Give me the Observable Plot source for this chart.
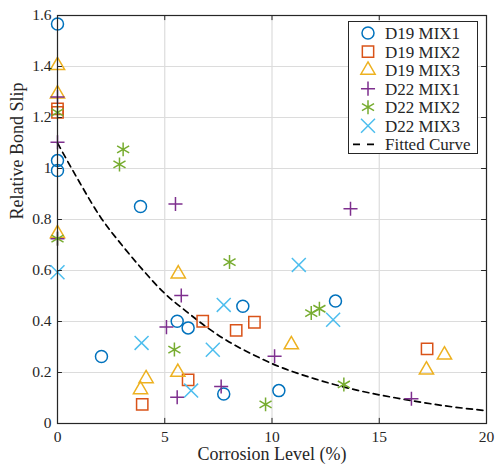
<!DOCTYPE html>
<html><head><meta charset="utf-8">
<script src="https://cdn.jsdelivr.net/npm/d3@7"></script>
<script src="https://cdn.jsdelivr.net/npm/@observablehq/plot@0.6"></script>
<style>
body{margin:0;background:#fff;}
#wrap{position:relative;width:495px;height:467px;font-family:"Liberation Serif","Times New Roman",serif;}
#wrap svg text{font-family:"Liberation Serif","Times New Roman",serif;}
#legend{position:absolute;left:348px;top:21px;width:128px;height:131px;border:1px solid #262626;background:#fff;}
#legend svg{display:block;}
</style></head><body><div id="wrap"></div>
<script>
// ---- data ----
const xTicks = [0, 5, 10, 15, 20];
const yTicks = [0, 0.2, 0.4, 0.6, 0.8, 1, 1.2, 1.4, 1.6];
const xLabel = "Corrosion Level (%)";
const yLabel = "Relative Bond Slip";
const seriesNames = ["D19 MIX1", "D19 MIX2", "D19 MIX3", "D22 MIX1", "D22 MIX2", "D22 MIX3"];
const seriesColors = ["#0072BD", "#D95319", "#EDB120", "#7E2F8E", "#77AC30", "#4DBEEE"];
const seriesSymbols = ["circle", "square2", "triangle2", "plus", "asterisk", "times"];
const fitLabel = "Fitted Curve";

const d19mix1X = [0, 0, 0, 2.05, 3.87, 5.58, 6.09, 7.75, 8.64, 10.32, 12.96];
const d19mix1Y = [1.567, 1.031, 0.992, 0.263, 0.851, 0.401, 0.375, 0.116, 0.46, 0.129, 0.48];
const d19mix2X = [0, 0, 3.95, 6.09, 6.77, 8.33, 9.18, 17.23];
const d19mix2Y = [1.234, 1.22, 0.075, 0.171, 0.401, 0.365, 0.397, 0.293];
const d19mix3X = [0, 0, 0, 3.87, 4.13, 5.63, 5.61, 10.9, 17.2, 18.04];
const d19mix3Y = [1.404, 1.293, 0.745, 0.133, 0.176, 0.587, 0.201, 0.309, 0.21, 0.269];
const d22mix1X = [0, 0, 0, 5.5, 5.77, 5.08, 5.58, 7.63, 10.12, 13.66, 16.5];
const d22mix1Y = [1.28, 1.103, 0.725, 0.861, 0.502, 0.378, 0.103, 0.145, 0.264, 0.842, 0.097];
const d22mix2X = [0, 0, 2.89, 3.06, 5.45, 8.02, 9.7, 11.83, 12.21, 13.35];
const d22mix2Y = [1.22, 0.725, 1.016, 1.075, 0.29, 0.633, 0.075, 0.433, 0.45, 0.153];
const d22mix3X = [0, 3.92, 6.23, 7.24, 7.75, 11.25, 12.85];
const d22mix3Y = [0.593, 0.316, 0.129, 0.289, 0.465, 0.622, 0.407];

const fitX = [0, 1, 2, 3, 4, 5, 6, 7, 8, 9, 10, 12, 14, 16, 18, 20];
const fitY = [1.10, 0.95, 0.81, 0.70, 0.60, 0.51, 0.44, 0.375, 0.32, 0.275, 0.235, 0.175, 0.13, 0.097, 0.07, 0.05];

// ---- build ----
const seriesXs = [d19mix1X, d19mix2X, d19mix3X, d22mix1X, d22mix2X, d22mix3X];
const seriesYs = [d19mix1Y, d19mix2Y, d19mix3Y, d22mix1Y, d22mix2Y, d22mix3Y];
const symbolR = {circle: 6, square2: 7.2, triangle2: 6.8, plus: 4.6, asterisk: 6.6, times: 6.4};
const series = seriesNames.map((name, i) => ({
  name, color: seriesColors[i], symbol: seriesSymbols[i],
  rows: seriesXs[i].map((x, j) => ({x, y: seriesYs[i][j]}))
}));
const fit = fitX.map((x, i) => ({x, y: fitY[i]}));
const ink = "#262626";
const serif = '"Liberation Serif","Times New Roman",serif';

const chart = Plot.plot({
  width: 495, height: 467,
  marginTop: 15, marginRight: 9, marginBottom: 44, marginLeft: 57,
  style: {fontFamily: serif, fontSize: "16px", color: ink, background: "#fff"},
  x: {domain: [0, 20]},
  y: {domain: [0, 1.6]},
  marks: [
    Plot.gridX(xTicks, {stroke: "#dcdcdc", strokeOpacity: 1, strokeWidth: 1.2}),
    Plot.gridY(yTicks, {stroke: "#dcdcdc", strokeOpacity: 1, strokeWidth: 1.2}),
    Plot.line(fit, {x: "x", y: "y", stroke: "#000", strokeWidth: 1.7, strokeDasharray: "6,4.5", curve: "monotone-x"}),
    ...series.map(s => Plot.dot(s.rows, {x: "x", y: "y", symbol: s.symbol, r: symbolR[s.symbol], stroke: s.color, fill: "none", strokeWidth: 1.5})),
    Plot.frame({stroke: ink, strokeWidth: 1.2}),
    Plot.ruleX(xTicks, {x: d => d, y1: 0, y2: 0.02, stroke: ink}),
    Plot.ruleX(xTicks, {x: d => d, y1: 1.6, y2: 1.58, stroke: ink}),
    Plot.ruleY(yTicks, {y: d => d, x1: 0, x2: 0.23, stroke: ink}),
    Plot.ruleY(yTicks, {y: d => d, x1: 20, x2: 19.77, stroke: ink}),
    Plot.axisX({ticks: xTicks, tickSize: 0, tickPadding: 7, label: null, fontSize: 15.5, fontFamily: serif, tickFormat: d => String(d)}),
    Plot.axisY({ticks: yTicks, tickSize: 0, tickPadding: 6, label: null, fontSize: 15.5, fontFamily: serif, tickFormat: d => String(d)}),
    Plot.text([xLabel], {frameAnchor: "bottom", lineAnchor: "middle", dy: 31, text: d => d, fontSize: 18, fontFamily: serif, fill: ink}),
    Plot.text([yLabel], {frameAnchor: "left", lineAnchor: "middle", dx: -40, rotate: -90, text: d => d, fontSize: 18, fontFamily: serif, fill: ink})
  ]
});
const wrap = document.getElementById("wrap");
wrap.appendChild(chart);

// ---- legend ----
const symMap = {circle: d3.symbolCircle, square2: d3.symbolSquare2, triangle2: d3.symbolTriangle2, plus: d3.symbolPlus, asterisk: d3.symbolAsterisk, times: d3.symbolTimes};
const leg = document.createElement("div");
leg.id = "legend";
wrap.appendChild(leg);
const svg = d3.select(leg).append("svg").attr("width", 128).attr("height", 131);
const rowY = i => 11 + i * 18.55;
series.forEach((s, i) => {
  const r = symbolR[s.symbol];
  svg.append("path")
    .attr("d", d3.symbol(symMap[s.symbol], r * r * Math.PI)())
    .attr("transform", `translate(19,${rowY(i)})`)
    .attr("fill", "none").attr("stroke", s.color).attr("stroke-width", 1.5);
  svg.append("text").attr("x", 36).attr("y", rowY(i)).attr("dy", "0.35em")
    .attr("font-size", 17).attr("font-family", serif).attr("fill", ink).text(s.name);
});
svg.append("line").attr("x1", 4).attr("x2", 27).attr("y1", rowY(6)).attr("y2", rowY(6))
  .attr("stroke", "#000").attr("stroke-width", 1.7).attr("stroke-dasharray", "7,7");
svg.append("text").attr("x", 36).attr("y", rowY(6)).attr("dy", "0.35em")
  .attr("font-size", 17).attr("font-family", serif).attr("fill", ink).text(fitLabel);
</script>
</body></html>
